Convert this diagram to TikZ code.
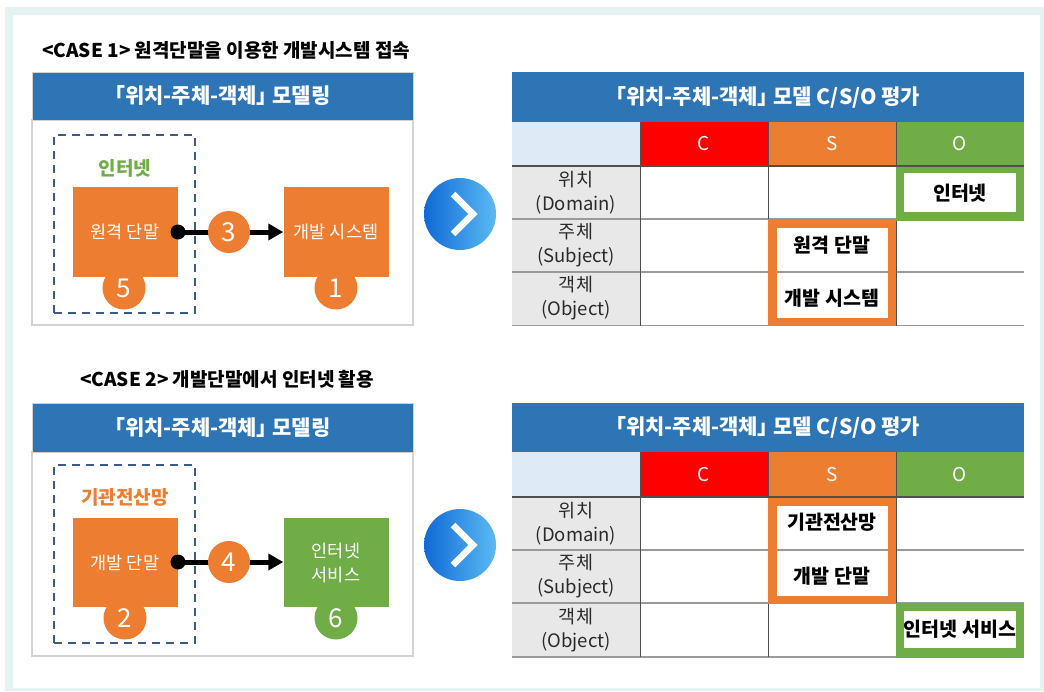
\documentclass[tikz,border=0pt]{standalone}
\usepackage{fontspec}
\setmainfont{Noto Sans CJK KR}
\newfontfamily\hdrfont[RawFeature=+palt]{Noto Sans CJK KR}
\usetikzlibrary{arrows.meta,calc}
\definecolor{hblue}{HTML}{2E75B6}
\definecolor{sorange}{HTML}{ED7D31}
\definecolor{ogreen}{HTML}{70AD47}
\definecolor{cred}{HTML}{FF0000}
\definecolor{lblue}{HTML}{DEEBF7}
\definecolor{lgray}{HTML}{E8E8E8}
\definecolor{dashc}{HTML}{3A5A8C}
\definecolor{teal}{HTML}{E4F2F2}
\definecolor{pborder}{HTML}{D3D3D3}
\definecolor{chevl}{HTML}{0F6AD6}
\definecolor{chevr}{HTML}{5CBAF2}
\definecolor{gridc}{HTML}{9A9A9A}
\definecolor{gridd}{HTML}{505050}
\definecolor{lbltext}{HTML}{2A2A2A}
\tikzset{
  hdr/.style={rectangle, fill=hblue, draw=pborder, line width=1pt, text=white, inner sep=0pt,
    font=\hdrfont\bfseries\fontsize{21}{24}\selectfont},
  panel/.style={rectangle, fill=white, draw=pborder, line width=1.5pt, inner sep=0pt},
  dashbox/.style={rectangle, draw=dashc, line width=1.6pt, dash pattern=on 8pt off 6pt, inner sep=0pt},
  grplbl/.style={font=\hdrfont\bfseries\fontsize{19}{22}\selectfont, inner sep=0pt},
  sysbox/.style={rectangle, fill=#1, text=white, inner sep=0pt, minimum width=105pt, minimum height=90pt,
    align=center, font=\fontsize{17.5}{24}\selectfont},
  numc/.style={circle, fill=#1, text=white, inner sep=0pt, minimum size=43pt,
    font=\fontsize{26}{28}\selectfont},
  dotn/.style={circle, fill=black, inner sep=0pt, minimum size=15pt},
  conn/.style={line width=5pt, -{Triangle[length=15pt,width=16pt]}},
  chev/.style={circle, left color=chevl, right color=chevr, inner sep=0pt, minimum size=72pt},
  casetitle/.style={anchor=west, font=\hdrfont\bfseries\fontsize{19}{22}\selectfont, inner sep=0pt},
  thdr/.style={rectangle, fill=hblue, text=white, inner sep=0pt, minimum width=512pt,
    font=\hdrfont\bfseries\fontsize{21}{24}\selectfont},
  csocell/.style={rectangle, fill=#1, text=white, inner sep=0pt, minimum width=128pt,
    font=\fontsize{19}{20}\selectfont},
  rowlbl/.style={rectangle, fill=lgray, text=lbltext, inner sep=0pt, minimum width=128pt, minimum height=53pt,
    align=center, font=\fontsize{18.5}{24}\selectfont},
  celltxt/.style={font=\bfseries\fontsize{19.5}{22}\selectfont, inner sep=0pt},
  gridh/.style={draw=gridc, line width=1.3pt},
  gridv/.style={draw=gridd, line width=0.9pt},
  griddark/.style={draw=gridd, line width=1.3pt}
}
\begin{document}
\begin{tikzpicture}[x=1pt,y=-1pt]
\useasboundingbox (0,0) rectangle (1044,691);
% outer frame
\fill[white] (0,0) rectangle (1044,691);
\fill[teal,even odd rule] (5,7) rectangle (1044,691) (13,15) rectangle (1040,688);

% ================= CASE 1 =================
\node[casetitle] (t1) at (42,50) {<CASE 1> 원격단말을 이용한 개발시스템 접속};
\node[panel, minimum width=381pt, minimum height=205pt] (p1) at (222.5,222.5) {};
\node[hdr, minimum width=381pt, minimum height=48pt] (h1) at (222.5,96) {「위치-주체-객체」 모델링};
\node[dashbox, minimum width=141pt, minimum height=178pt] (d1) at (124.5,224) {};
\node[grplbl, text=ogreen] (g1) at (125,168) {인터넷};
\node[sysbox=sorange] (a1) at (125,232) {원격 단말};
\node[sysbox=sorange] (b1) at (336,232) {개발 시스템};
\node[numc=sorange] (n5) at (124,288) {5};
\node[numc=sorange] (n1) at (336,288) {1};
\node[dotn] (dt1) at (178,232) {};
\draw[conn] (dt1.center) -- (b1.west);
\node[numc=sorange, minimum size=42pt] (n3) at (229,232) {3};
\node[chev] (c1) at (460,214) {};
\draw[white, line width=6.5pt, line join=miter] ($(c1)+(-7,-20)$) -- ($(c1)+(13,0)$) -- ($(c1)+(-7,20)$);

% table 1
\node[thdr, minimum height=50pt] (th1) at (768,97) {「위치-주체-객체」 모델 C/S/O 평가};
\node[csocell=lblue, minimum height=44pt] (k1) at (576,144) {};
\node[csocell=cred, minimum height=44pt] (cc1) at (704,144) {C};
\node[csocell=sorange, minimum height=44pt] (cs1) at (832,144) {S};
\node[csocell=ogreen, minimum height=44pt] (co1) at (960,144) {O};
\node[rowlbl] (r11) at (576,192.5) {위치\\(Domain)};
\node[rowlbl] (r12) at (576,245.5) {주체\\(Subject)};
\node[rowlbl] (r13) at (576,298.5) {객체\\(Object)};
\draw[gridh] (512,219) -- (1024,219);
\draw[gridh] (512,272) -- (1024,272);
\draw[gridh] (512,325.5) -- (1024,325.5);
\draw[gridv] (640,122) -- (640,326);
\draw[gridv] (768,122) -- (768,326);
\draw[gridv] (896,122) -- (896,326);
% highlight frames
\fill[ogreen] (896,166) rectangle (1024,221);
\fill[white] (904,173) rectangle (1016,212);
\node[celltxt] (v11) at (960,193) {인터넷};
\fill[sorange] (768,219) rectangle (896,326);
\fill[white] (777,228) rectangle (888,318);
\draw[gridh] (777,272) -- (888,272);
\node[celltxt] (v12) at (832,245) {원격 단말};
\node[celltxt] (v13) at (832,298) {개발 시스템};
\draw[griddark] (512,166) -- (1024,166);

% ================= CASE 2 =================
\node[casetitle] (t2) at (80,379) {<CASE 2> 개발단말에서 인터넷 활용};
\node[panel, minimum width=381pt, minimum height=204pt] (p2) at (222.5,554) {};
\node[hdr, minimum width=381pt, minimum height=49pt] (h2) at (222.5,427.5) {「위치-주체-객체」 모델링};
\node[dashbox, minimum width=141pt, minimum height=178pt] (d2) at (124.5,554) {};
\node[grplbl, text=sorange] (g2) at (125,497) {기관전산망};
\node[sysbox=sorange, minimum height=89pt] (a2) at (125,562.5) {개발 단말};
\node[sysbox=ogreen, minimum height=89pt] (b2) at (336,562.5) {인터넷\\서비스};
\node[numc=sorange] (n2) at (125,618) {2};
\node[numc=ogreen] (n6) at (336,618) {6};
\node[dotn] (dt2) at (178,562) {};
\draw[conn] (dt2.center) -- (b2.west |- dt2.center);
\node[numc=sorange, minimum size=42pt] (n4) at (229,562) {4};
\node[chev] (c2) at (460,545) {};
\draw[white, line width=6.5pt, line join=miter] ($(c2)+(-7,-20)$) -- ($(c2)+(13,0)$) -- ($(c2)+(-7,20)$);

% table 2
\node[thdr, minimum height=49pt] (th2) at (768,427.5) {「위치-주체-객체」 모델 C/S/O 평가};
\node[csocell=lblue, minimum height=45pt] (k2) at (576,474.5) {};
\node[csocell=cred, minimum height=45pt] (cc2) at (704,474.5) {C};
\node[csocell=sorange, minimum height=45pt] (cs2) at (832,474.5) {S};
\node[csocell=ogreen, minimum height=45pt] (co2) at (960,474.5) {O};
\node[rowlbl] (r21) at (576,523.5) {위치\\(Domain)};
\node[rowlbl] (r22) at (576,576.5) {주체\\(Subject)};
\node[rowlbl, minimum height=54pt] (r23) at (576,630) {객체\\(Object)};
\draw[gridh] (512,550) -- (1024,550);
\draw[gridh] (512,603) -- (1024,603);
\draw[gridh] (512,657) -- (1024,657);
\draw[gridv] (640,452) -- (640,657);
\draw[gridv] (768,452) -- (768,657);
\draw[gridv] (896,452) -- (896,657);
\fill[sorange] (768,497) rectangle (896,604);
\fill[white] (777,506) rectangle (888,596);
\draw[gridh] (777,550) -- (888,550);
\node[celltxt] (v21) at (832,522) {기관전산망};
\node[celltxt] (v22) at (832,576) {개발 단말};
\fill[ogreen] (896,603) rectangle (1024,658);
\fill[white] (904,611) rectangle (1016,648);
\node[celltxt] (v23) at (960,629) {인터넷 서비스};
\draw[griddark] (512,497) -- (1024,497);
\end{tikzpicture}
\end{document}
